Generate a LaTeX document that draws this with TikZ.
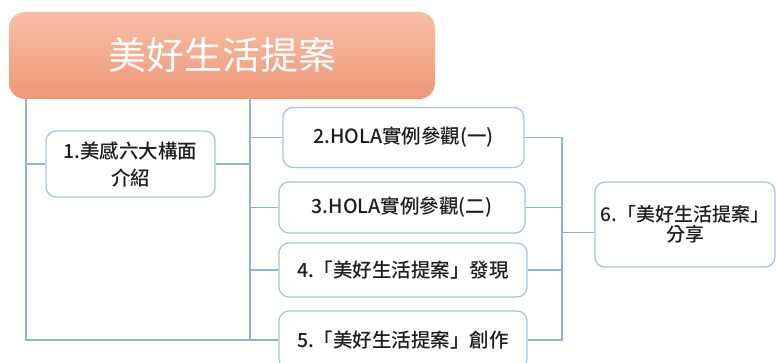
\documentclass[tikz,border=0pt]{standalone}
\usepackage{fontspec}
\newfontfamily\cjk{Noto Sans CJK TC}[UprightFont={* Medium}]
\newfontfamily\cjktitle{Noto Sans CJK TC}
\definecolor{linec}{HTML}{8FB3D6}
\definecolor{boxc}{HTML}{A6C2DC}
\definecolor{txt}{HTML}{1E1E1E}
\definecolor{ttop}{HTML}{F7BEA7}
\definecolor{tbot}{HTML}{F09876}
\tikzset{
  conn/.style={draw=linec, line width=1.3pt},
  itembox/.style={draw=boxc, line width=1.2pt, rounded corners=10pt, fill=white,
    text=txt, font=\cjk\fontsize{19.5}{27}\selectfont, align=center, inner sep=0pt},
  titlebox/.style={rounded corners=16pt, top color=ttop, bottom color=tbot, draw=none,
    text=white, font=\cjktitle\fontsize{38}{40}\selectfont, inner sep=0pt}
}
\begin{document}
\begin{tikzpicture}[x=1pt,y=-1pt]
\clip (0,0) rectangle (776,363);
\fill[white] (0,0) rectangle (776,363);
\node[titlebox, minimum width=426pt, minimum height=87pt] (title) at (222,55.5) {美好生活提案};
\coordinate (L) at (26,0);
\coordinate (M) at (250,0);
\coordinate (R) at (562,0);
\node[itembox, minimum width=169pt, minimum height=66pt] (b1) at (130.5,164) {1.美感六大構面\\介紹};
\node[itembox, minimum width=241pt, minimum height=60pt] (b2) at (403.5,137.5) {2.HOLA實例參觀(一)};
\node[itembox, minimum width=246pt, minimum height=51pt] (b3) at (402,207.5) {3.HOLA實例參觀(二)};
\node[itembox, minimum width=248pt, minimum height=54pt] (b4) at (403,270) {4.「美好生活提案」發現};
\node[itembox, minimum width=248pt, minimum height=58pt] (b5) at (403,340) {5.「美好生活提案」創作};
\node[itembox, minimum width=180pt, minimum height=85pt, font=\cjk\fontsize{19}{20}\selectfont] (b6) at (685,224.5) {6.「美好生活提案」\\分享};
% left trunks
\draw[conn] (title.south -| L) -- (L |- b5.west) -- (b5.west);
\draw[conn] (title.south -| M) -- (M |- b5.west);
\draw[conn] (b1.west) -- (b1.west -| L);
\draw[conn] (b1.east) -- (b1.east -| M);
\draw[conn] (b2.west) -- (b2.west -| M);
\draw[conn] (b3.west) -- (b3.west -| M);
\draw[conn] (b4.west) -- (b4.west -| M);
% right trunk
\draw[conn] (b2.east) -- (b2.east -| R) -- (R |- b5.east) -- (b5.east);
\draw[conn] (b3.east) -- (b3.east -| R);
\draw[conn] (b4.east) -- (b4.east -| R);
\coordinate (b6in) at ([yshift=-8pt]b6.west);
\draw[conn] (b6in -| R) -- (b6in);
\end{tikzpicture}
\end{document}
